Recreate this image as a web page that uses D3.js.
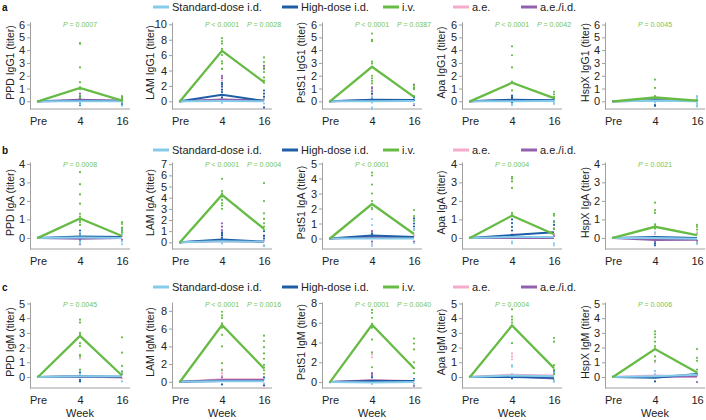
<!DOCTYPE html>
<html><head><meta charset="utf-8">
<script src="https://cdn.jsdelivr.net/npm/d3@7"></script>
<style>
body{margin:0;background:#fff;}
svg{font-family:"Liberation Sans",Arial,Helvetica,sans-serif;}
</style></head><body>
<svg id="c" width="706" height="420"></svg>
<script>
// ---------- data ----------
const timepoints = ["Pre", "4", "16"];
const groups = ["Standard-dose i.d.", "High-dose i.d.", "i.v.", "a.e.", "a.e./i.d."];
const antigens = ["PPD", "LAM", "PstS1", "Apa", "HspX"];
const isotypes = ["IgG1", "IgA", "IgM"];
const rowLetters = ["a", "b", "c"];

// mean lines per panel: [std, high, iv, ae, aeid] x [Pre, 4, 16]
const meansIgG1 = [
  [[0,0,0],[0,0.05,0.02],[0,1.05,0.05],[0,0.05,0.08],[0,0.12,0.05]],
  [[0,0.05,0],[0,0.85,0.05],[0,6.55,2.5],[0,0.2,0.1],[0,0.25,0.1]],
  [[0,0,0.02],[0,0.12,0.1],[0,2.7,0.35],[0,0.05,0.05],[0,0.08,0.05]],
  [[0,0,0.02],[0,0.12,0.08],[0,1.45,0.25],[0,0.05,0.05],[0,0.1,0.05]],
  [[0,0.05,0],[0,0.08,0.02],[0,0.3,0.05],[0,0.05,0.05],[0,0.05,0.02]]
];
const meansIgA = [
  [[0,0.02,0],[0,0.08,0.05],[0,1.05,0.1],[0,0,0.02],[0,-0.05,0]],
  [[0,0.1,0.05],[0,0.25,0.05],[0,4.25,1.2],[0,0.1,0.05],[0,0.15,0.05]],
  [[0,0,0],[0,0.2,0.1],[0,2.3,0.3],[0,0.05,0.05],[0,0.1,0.05]],
  [[0,0.05,0.05],[0,0.15,0.3],[0,1.2,0.2],[0,0.05,0.05],[0,0,0]],
  [[0,0,-0.05],[0,0.05,0],[0,0.6,0.15],[0,-0.05,-0.05],[0,-0.12,-0.1]]
];
const meansIgM = [
  [[0,0.05,0.05],[0,0.05,0.02],[0,2.8,0.1],[0,0.05,-0.05],[0,0.02,0]],
  [[0,0.05,0.05],[0,0.1,0.1],[0,6.4,1.5],[0,0.3,0.3],[0,0.2,0.2]],
  [[0,-0.05,0],[0,0.1,0.1],[0,5.8,1.4],[0,0.2,0.1],[0,0.15,0.05]],
  [[0,0.1,0.05],[0,0,-0.05],[0,3.5,0.6],[0,0.15,0.1],[0,0.05,-0.1]],
  [[0,0.05,0.15],[0,-0.05,0.2],[0,1.9,0.3],[0,0.1,0],[0,0,0.05]]
];

// individual values at week 4 and week 16: [std, high, iv, ae, aeid]
const pts4IgG1 = [
  [[0.1,-0.1,-0.25,0.3],[0.35,0.2,0,-0.2,-0.3],[4.55,4.5,2.65,1.5,1.1,1.05,0.95,0.45,0.3],[0.2,0.1],[0.6,0.4,0.25]],
  [[0.1,-0.2,0.3],[2.4,2.2,1.9,1.5,1.2,0.8,0.5,0.3],[8.2,7.8,7.5,6.8,6.5,6.0,5.2,4.9,4.2],[3.0,2.7,2.0,1.6],[4.2,3.3,3.0]],
  [[0.3,-0.1,-0.5,-0.6],[0.6,0.3,0.15],[5.3,4.8,4.7,3.1,2.95,2.0,1.8,1.6,1.4],[0.5,0.3],[1.1,1.0,0.8]],
  [[0.1,-0.2,-0.3],[0.45,0.3,-0.1],[4.3,3.6,2.65,1.55,0.85],[0.2],[0.35,0.25]],
  [[0.2,-0.1],[0.1,-0.3,-0.35],[1.7,1.05,0.4,0.3],[0.15],[0.1]]
];
const pts16IgG1 = [
  [[0.1,-0.1,-0.35],[0.2,-0.2],[0.4,0.3,0.2,0.1,0.0],[0.15],[0.2,0.1]],
  [[0.3,-0.3],[1.4,1.0,0.6,-0.8],[5.7,5.1,4.3,3.8,3.1,2.7,2.4],[0.4,0.2],[4.6,4.2]],
  [[0.2,-0.2],[0.3,0.1],[1.25,1.1,0.95,0.4],[0.2],[1.3,1.0,-0.3]],
  [[0.1,-0.1,-0.2],[0.2,0.1],[0.75,0.55,0.35,0.25],[0.1],[0.15]],
  [[0.4,0.3,0.15,-0.15,-0.3,-0.4],[0.1],[0.1,0.05],[0.05],[0.05]]
];
const pts4IgA = [
  [[0.3,0.15,-0.2,-0.3],[0.4,0.2,-0.1],[3.55,2.9,2.35,1.85,1.3,1.15,0.95,0.85,0.7],[0.1],[-0.2,-0.35]],
  [[0.2,-0.1],[0.9,0.75,0.6,0.4],[5.7,4.6,4.4,4.1,3.8,3.5,3.3,3.0],[0.6],[1.7,1.4,1.1]],
  [[1.3,0.9,-0.3,-0.5],[0.35,0.2,0.1],[4.4,4.2,3.6,3.0,2.5,2.3,2.05,1.95],[0.5,-0.4],[0.5,0.3,-0.2]],
  [[-0.2,-0.3],[1.0,0.8,0.6,0.4],[3.3,3.2,3.05,2.7,1.35,1.25],[0.2],[0.1]],
  [[0.75,0.3],[-0.3,-0.4],[1.9,1.5,1.35,0.7,0.5],[0.2],[-0.2]]
];
const pts16IgA = [
  [[0.45,0.3,0.2,-0.2,-0.35],[0.5,0.4],[0.85,0.75,0.55,0.4,0.3],[0.1],[-0.1]],
  [[0.2,-0.3],[1.0,0.6,0.3,-0.3],[5.3,3.7,2.6,2.1,1.7,1.4,1.1],[0.1],[0.5]],
  [[0.6,-0.3],[1.35,1.2,1.0,0.8,0.6],[1.9,1.5,1.2],[0.2],[-0.2]],
  [[-0.3,-0.4],[0.9,0.7,0.5],[1.3,1.2,0.85,0.5],[0.2],[0.1]],
  [[0.2,-0.3],[-0.3],[0.7,0.6,0.45],[0.3],[-0.15]]
];
const pts4IgM = [
  [[0.4,0.2],[0.3,-0.2,-0.3],[3.9,3.7,3.0,2.9,2.3,2.1,1.5,1.4,0.5],[1.25],[0.1]],
  [[0.2],[-0.3],[7.9,7.5,7.2,6.6,6.1,5.3,4.0,2.1,1.3],[1.4,1.0,0.7],[0.5]],
  [[0.3,-0.2],[0.5],[7.3,7.0,6.5,5.9,5.5,4.3,3.0,1.5],[2.8,2.5],[0.9,0.7]],
  [[0.8,0.7,0.2],[-0.1],[4.6,4.1,3.9,3.7,3.5,2.3],[1.6,1.4,1.2],[0.1]],
  [[0.4,0.2],[-0.3],[3.1,2.9,2.7,2.4,2.1,1.95,1.4,1.1],[1.0,0.4],[0.1]]
];
const pts16IgM = [
  [[0.4,0.2,-0.3],[0.2],[2.7,1.65,0.75,0.35],[-0.1],[0.2]],
  [[0.3,-0.2],[0.5,-0.4],[5.2,4.6,3.9,3.2,2.6,1.9,1.6,1.3,0.9],[-0.7],[-0.4]],
  [[0.2,-0.2],[0.3],[4.4,3.9,3.3,2.0,1.4,0.9],[0.1],[-0.4]],
  [[0.3,-0.2,-0.3],[0.4,0.2],[2.65,2.4,0.8,0.5,0.2],[0.2],[-0.3]],
  [[0.3,0.1],[0.2],[1.9,1.3,1.1,0.5],[0.1],[-0.35]]
];

// y-axis domains and tick labels
const domainsIgG1 = [[-0.6,6.2],[-1,10.3],[-0.6,6.2],[-0.6,6.2],[-0.6,6.2]];
const domainsIgA  = [[-0.6,4.1],[-0.6,7.2],[-0.7,5.1],[-0.6,4.1],[-0.6,4.1]];
const domainsIgM  = [[-0.75,5.1],[-0.7,9],[-0.6,8.1],[-0.75,5.1],[-0.75,5.1]];
const ticksIgG1 = [[0,1,2,3,4,5,6],[0,2,4,6,8,10],[0,1,2,3,4,5,6],[0,1,2,3,4,5,6],[0,1,2,3,4,5,6]];
const ticksIgA  = [[0,1,2,3,4],[0,1,2,3,4,5,6,7],[0,1,2,3,4,5],[0,1,2,3,4],[0,1,2,3,4]];
const ticksIgM  = [[0,1,2,3,4,5],[0,2,4,6,8],[0,2,4,6,8],[0,1,2,3,4,5],[0,1,2,3,4,5]];

// P values [week 4, week 16]
const pvalsIgG1 = [["= 0.0007",null],["< 0.0001","= 0.0028"],["< 0.0001","= 0.0387"],["< 0.0001","= 0.0042"],["= 0.0045",null]];
const pvalsIgA  = [["= 0.0008",null],["< 0.0001","= 0.0004"],["< 0.0001",null],["= 0.0004",null],["= 0.0021",null]];
const pvalsIgM  = [["= 0.0045",null],["< 0.0001","= 0.0016"],["< 0.0001","= 0.0040"],["= 0.0004",null],["= 0.0006",null]];

// ---------- styles / layout ----------
const groupColors = ["#86cbea", "#1d5ea6", "#66bb45", "#f5abc9", "#9161ad"];
const pColor = "#74c352";
const drawOrder = [3, 4, 1, 0, 2];
const colX = [30, 172, 322, 462, 605];
const yTitleX = [10, 150, 301, 441, 585];
const rowTop = [22, 162, 302];
const rowBot = [109, 249, 388];
const legendY = [7, 150, 287];
const legendX = [153, 282, 383, 453, 521];

const rows = [
  {means: meansIgG1, p4: pts4IgG1, p16: pts16IgG1, dom: domainsIgG1, ticks: ticksIgG1, pv: pvalsIgG1},
  {means: meansIgA,  p4: pts4IgA,  p16: pts16IgA,  dom: domainsIgA,  ticks: ticksIgA,  pv: pvalsIgA},
  {means: meansIgM,  p4: pts4IgM,  p16: pts16IgM,  dom: domainsIgM,  ticks: ticksIgM,  pv: pvalsIgM}
];

const svg = d3.select("#c");
const axisColor = "#a0a0a0";

rows.forEach((row, ri) => {
  // panel letter
  svg.append("text").attr("x", 2).attr("y", legendY[ri] + 4)
    .attr("font-size", 10).attr("font-weight", "bold").attr("fill", "#111").text(rowLetters[ri]);
  // legend
  groups.forEach((g, gi) => {
    const lg = svg.append("g").attr("transform", `translate(${legendX[gi]},${legendY[ri]})`);
    lg.append("line").attr("x1", 0).attr("x2", 16).attr("y1", 0).attr("y2", 0)
      .attr("stroke", groupColors[gi]).attr("stroke-width", 3);
    lg.append("text").attr("x", 19).attr("y", 4).attr("font-size", 11).attr("fill", "#222").text(g);
  });

  antigens.forEach((ag, pi) => {
    const x0 = colX[pi];
    const x = d3.scalePoint().domain(timepoints).range([x0 + 8, x0 + 92]);
    const y = d3.scaleLinear().domain(row.dom[pi]).range([rowBot[ri], rowTop[ri]]);
    const gp = svg.append("g");

    // axes
    const ya = gp.append("g").attr("transform", `translate(${x0},0)`)
      .call(d3.axisLeft(y).tickValues(row.ticks[pi]).tickFormat(d3.format("d"))
        .tickSize(3).tickSizeOuter(0).tickPadding(2));
    const xa = gp.append("g").attr("transform", `translate(0,${rowBot[ri]})`)
      .call(d3.axisBottom(x).tickSize(0).tickPadding(8));
    xa.select(".domain").remove();
    gp.append("line").attr("x1", x0).attr("x2", x0 + 100).attr("y1", rowBot[ri]).attr("y2", rowBot[ri])
      .attr("stroke", axisColor).attr("stroke-width", 1);
    [ya, xa].forEach(a => {
      a.selectAll("path,line").attr("stroke", axisColor);
      a.selectAll("text").attr("font-size", 11).attr("fill", "#222")
        .attr("font-family", "'Liberation Sans',Arial,sans-serif");
    });

    // y title
    const ymid = (rowTop[ri] + rowBot[ri]) / 2 - 3;
    gp.append("text").attr("transform", `translate(${yTitleX[pi]},${ymid}) rotate(-90)`)
      .attr("text-anchor", "middle").attr("dominant-baseline", "central")
      .attr("font-size", 10.5).attr("fill", "#222")
      .text(`${ag} ${isotypes[ri]} (titer)`);

    // week label
    if (ri === 2) {
      gp.append("text").attr("x", x("4")).attr("y", 417).attr("text-anchor", "middle")
        .attr("font-size", 11).attr("fill", "#222").text("Week");
    }

    // points
    drawOrder.forEach(gi => {
      const pts = [];
      pts.push({t: "Pre", v: 0});
      row.p4[pi][gi].forEach(v => pts.push({t: "4", v}));
      row.p16[pi][gi].forEach(v => pts.push({t: "16", v}));
      gp.selectAll(null).data(pts).enter().append("circle")
        .attr("cx", d => x(d.t)).attr("cy", d => y(d.v)).attr("r", 1.1)
        .attr("fill", groupColors[gi]);
    });
    // mean lines
    const line = d3.line().x((d, i) => x(timepoints[i])).y(d => y(d));
    drawOrder.forEach(gi => {
      gp.append("path").datum(row.means[pi][gi]).attr("d", line)
        .attr("fill", "none").attr("stroke", groupColors[gi])
        .attr("stroke-width", gi === 2 ? 2.3 : 2).attr("stroke-linejoin", "miter");
    });

    // P values
    row.pv[pi].forEach((p, k) => {
      if (!p) return;
      const t = gp.append("text").attr("x", x(k === 0 ? "4" : "16")).attr("y", rowTop[ri] + 5)
        .attr("text-anchor", "middle").attr("font-size", 7).attr("fill", pColor);
      t.append("tspan").attr("font-style", "italic").text("P");
      t.append("tspan").text(" " + p);
    });
  });
});
</script>
</body></html>
